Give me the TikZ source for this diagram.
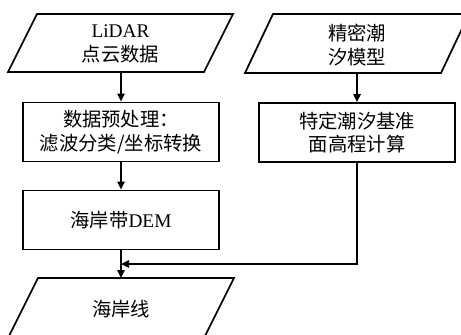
\documentclass[tikz,border=0pt]{standalone}
\usepackage{fontspec}
\setmainfont{Noto Sans CJK SC}
\newfontfamily\lat{Liberation Serif}
\usetikzlibrary{arrows.meta}
\begin{document}
\begin{tikzpicture}[x=0.75pt,y=-0.75pt,
  procbox/.style={draw, line width=1.3pt, rectangle, inner sep=0pt,
    minimum width=147pt, minimum height=44.25pt, align=center,
    font=\fontsize{14.5}{17.5}\selectfont},
  lbl/.style={align=center, inner sep=0pt, font=\fontsize{14.5}{18.5}\selectfont},
  flow/.style={line width=1.3pt, line join=miter, -{Triangle[length=6pt,width=5.5pt]}},
  para/.style={line width=1.3pt, line join=miter}]
\useasboundingbox (0,0) rectangle (461,335);
\begin{scope}
\clip (0,0) rectangle (461,335);
% parallelograms
\draw[para] (37,14) -- (233,14) -- (204,72) -- (8,72) -- cycle;
\node[lbl] (lidar) at (120.5,44) {{\lat LiDAR}\\点云数据};
\coordinate (p1b) at (121,72);

\draw[para] (273,14) -- (469,14) -- (441,73) -- (245,73) -- cycle;
\node[lbl] (tide) at (357,45) {精密潮\\汐模型};
\coordinate (p2b) at (357,73);

\draw[para] (38,278) -- (234,278) -- (205,336) -- (9,336) -- cycle;
\node[lbl] (coast) at (121,309) {海岸线};
\coordinate (p3t) at (121,278);

% process boxes
\node[procbox] (r1) at (121,132) {数据预处理：\\滤波分类/坐标转换};
\node[procbox] (r2) at (357,132.5) {特定潮汐基准\\面高程计算};
\node[procbox] (r3) at (121,220) {海岸带{\lat DEM}};

\coordinate (j) at (121,264);

% connectors
\draw[flow] (p1b) -- (p1b |- r1.north);
\draw[flow] (p2b) -- (p2b |- r2.north);
\draw[flow] (r1.south) -- (r3.north);
\draw[flow] (r3.south) -- (p3t);
\draw[flow] (r2.south) |- (j);
\end{scope}
\end{tikzpicture}
\end{document}
